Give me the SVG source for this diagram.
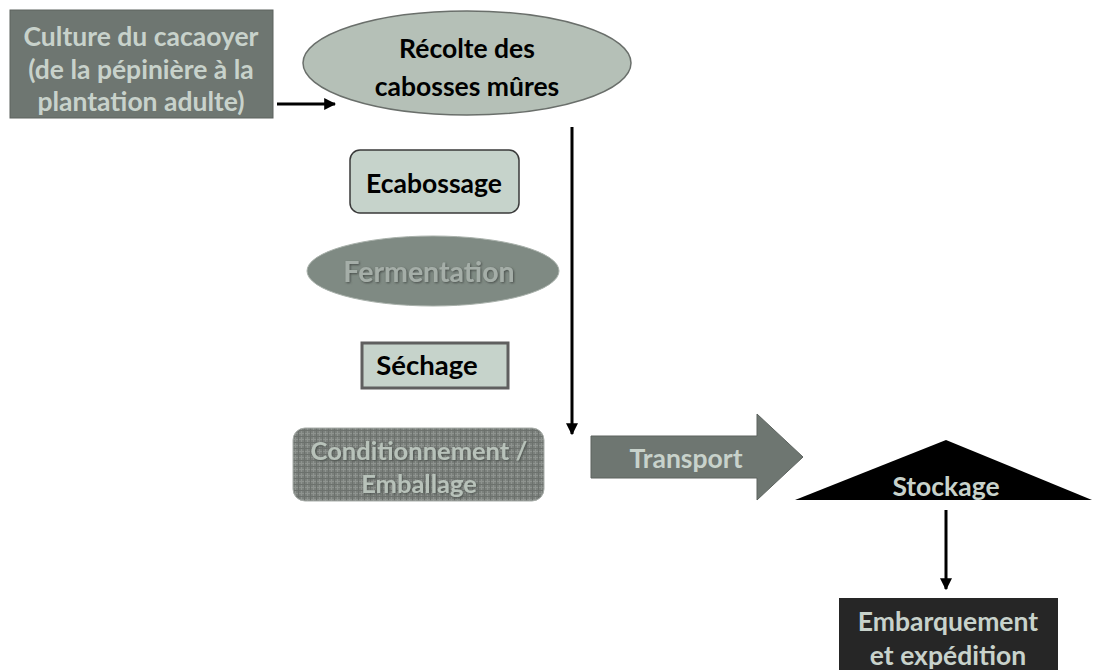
<svg xmlns="http://www.w3.org/2000/svg" width="1093" height="670" viewBox="0 0 1093 670">
<style>
text{font-family:Lato,"Open Sans","Liberation Sans",sans-serif;font-weight:bold;text-anchor:middle;dominant-baseline:central}
.dark{fill:#000;font-size:26.5px}
.light{fill:#c8d2cb;font-size:26.5px}
.conn{stroke:#000;stroke-width:3;fill:none}
</style>
<defs>
<marker id="ah" viewBox="0 0 10 10" refX="9" refY="5" markerWidth="4" markerHeight="4" orient="auto" markerUnits="strokeWidth"><path d="M0,0 L10,5 L0,10 z" fill="#000"/></marker>
<pattern id="tex" width="6" height="6" patternUnits="userSpaceOnUse"><rect width="6" height="6" fill="#7b807c"/><path d="M0,1.5 H6 M1.5,0 V6" stroke="#8e938f" stroke-width="1"/><path d="M0,4.5 H6 M4.5,0 V6" stroke="#6c716d" stroke-width="1"/></pattern>
<filter id="sh"><feDropShadow dx="1" dy="1" stdDeviation="0.8" flood-color="#4a504c"/></filter>
</defs>
<rect width="1093" height="670" fill="#fff"/>
<g id="culture">
<rect x="10" y="10" width="263" height="108" fill="#6e7671" stroke="#5c625e"/>
<text class="light" x="141" y="36">Culture du cacaoyer</text>
<text class="light" x="141" y="69">(de la pépinière à la</text>
<text class="light" x="141" y="101">plantation adulte)</text>
</g>
<g id="recolte">
<ellipse cx="467" cy="63" rx="164" ry="52" fill="#b5c0b7" stroke="#6a6f6b" stroke-width="1.5"/>
<text class="dark" x="467" y="48">Récolte des</text>
<text class="dark" x="467" y="86">cabosses mûres</text>
</g>
<g id="ecabossage">
<rect x="350" y="150" width="169" height="63" rx="10" fill="#c6d3cb" stroke="#3a3a3a" stroke-width="1.5"/>
<text class="dark" x="434" y="183">Ecabossage</text>
</g>
<g id="fermentation">
<ellipse cx="433" cy="271" rx="126" ry="35" fill="#7f8a83" stroke="#a9b1ab" stroke-width="1"/>
<text x="429" y="271" style="fill:#a5aea8;font-size:28.5px" filter="url(#sh)">Fermentation</text>
</g>
<g id="sechage">
<rect x="362" y="343" width="146" height="45" fill="#c6d3cb" stroke="#5f5f5f" stroke-width="3"/>
<text class="dark" x="427" y="364" style="font-size:27.5px">Séchage</text>
</g>
<g id="conditionnement">
<rect x="293" y="428" width="251" height="73" rx="12" fill="url(#tex)" stroke="#a8ada9" stroke-width="1"/>
<text x="419" y="450" style="fill:#b8c2ba;font-size:25.5px" filter="url(#sh)">Conditionnement /</text>
<text x="419" y="483" style="fill:#b8c2ba;font-size:25.5px" filter="url(#sh)">Emballage</text>
</g>
<g id="transport">
<polygon points="591,436 757,436 757,414 803,457 757,500 757,478 591,478" fill="#6e7671" stroke="#5c625e"/>
<text class="light" x="686" y="458">Transport</text>
</g>
<g id="stockage">
<polygon points="795,500 1092,500 946,440" fill="#000"/>
<text class="light" x="946" y="486">Stockage</text>
</g>
<g id="embarquement">
<rect x="839" y="598" width="219" height="80" fill="#262626"/>
<text class="light" x="948" y="621">Embarquement</text>
<text class="light" x="948" y="655">et expédition</text>
</g>
<g id="connectors">
<line class="conn" x1="277" y1="104" x2="335" y2="104" marker-end="url(#ah)"/>
<line class="conn" x1="572" y1="127" x2="572" y2="434" marker-end="url(#ah)"/>
<line class="conn" x1="946" y1="510" x2="946" y2="589" marker-end="url(#ah)"/>
</g>
</svg>
